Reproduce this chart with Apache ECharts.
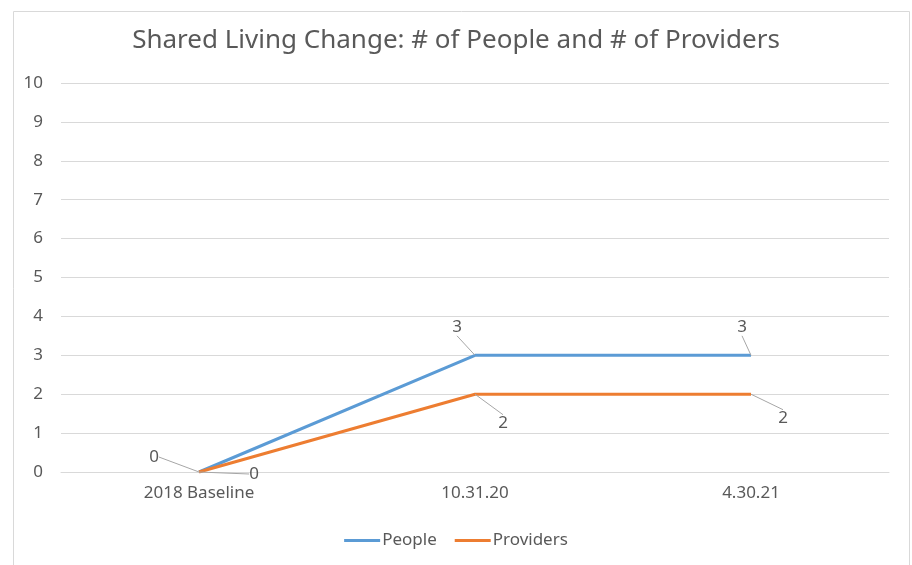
<!DOCTYPE html>
<html><head><meta charset="utf-8">
<script src="https://cdn.jsdelivr.net/npm/echarts@6/dist/echarts.min.js"></script>
<style>html,body{margin:0;padding:0;background:#fff}#c{width:912px;height:565px}</style>
</head><body><div id="c"></div>
<script>
const categories = ['2018 Baseline', '10.31.20', '4.30.21'];
const people = [0, 3, 3];
const providers = [0, 2, 2];
const yTicks = {min: 0, max: 10, interval: 1};
const titleText = 'Shared Living Change: # of People and # of Providers';

// label offsets (styling) relative to point
const peopleOffsets = [[-45, -15], [-18, -28], [-9, -28]];
const providerOffsets = [[55, 2], [28, 29], [32, 24]];

const FONT = 'Noto Sans';
const GREY = '#595959';
const chart = echarts.init(document.getElementById('c'), null, {renderer: 'canvas'});
function mkSeries(name, data, color, offs) {
  return {
    name, type: 'line', data,
    symbol: 'circle', symbolSize: 0.1, showSymbol: true,
    lineStyle: {color, width: 3},
    itemStyle: {color},
    label: {show: true, position: 'inside', color: GREY, fontFamily: FONT, fontSize: 17},
    labelLine: {show: true, lineStyle: {color: '#A6A6A6', width: 1}},
    labelLayout: p => ({dx: offs[p.dataIndex][0], dy: offs[p.dataIndex][1]}),
    emphasis: {disabled: true},
    animation: false
  };
}
chart.setOption({
  animation: false,
  graphic: [{type: 'rect', left: 11, top: 9, shape: {width: 896, height: 570}, style: {fill: 'none', stroke: '#D9D9D9', lineWidth: 1}}],
  title: {text: titleText, left: 'center', top: 23, textStyle: {fontFamily: FONT, fontWeight: 'normal', fontSize: 26, color: GREY}},
  grid: {left: 61, right: 23, top: 83, bottom: 93},
  legend: {bottom: 11, left: 'center', icon: 'rect', itemWidth: 36, itemHeight: 3, itemGap: 18,
    textStyle: {fontFamily: FONT, fontSize: 17, color: GREY, padding: [0, 0, 0, -3]},
    data: ['People', 'Providers']},
  xAxis: {type: 'category', data: categories, boundaryGap: true,
    axisLine: {lineStyle: {color: '#D9D9D9'}}, axisTick: {show: false},
    axisLabel: {fontFamily: FONT, fontSize: 17, color: GREY, margin: 13}},
  yAxis: {type: 'value', min: yTicks.min, max: yTicks.max, interval: yTicks.interval,
    axisLine: {show: false}, axisTick: {show: false},
    axisLabel: {fontFamily: FONT, fontSize: 17, color: GREY, margin: 18},
    splitLine: {lineStyle: {color: '#D9D9D9'}}},
  series: [mkSeries('People', people, '#5B9BD5', peopleOffsets),
           mkSeries('Providers', providers, '#ED7D31', providerOffsets)]
});
</script></body></html>
